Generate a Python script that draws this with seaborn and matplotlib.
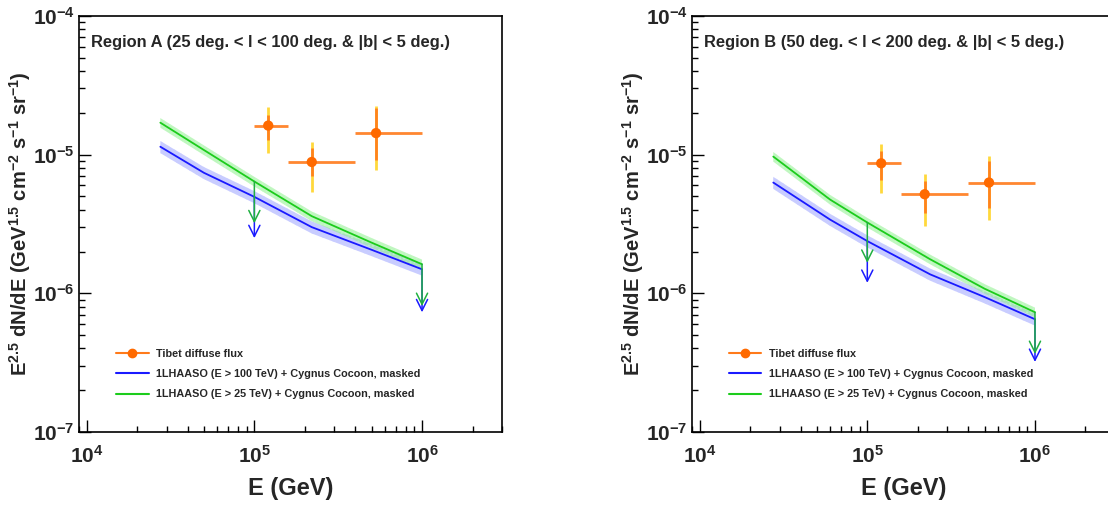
import numpy as np
import pandas as pd
import seaborn as sns
import matplotlib.pyplot as plt
from matplotlib.lines import Line2D
from matplotlib.ticker import LogLocator, NullFormatter, FuncFormatter

# ========= 1) DATA (read off the figure) =========
# LHAASO-based model curves, Region A
curve_e_a = [2.75e4, 5e4, 1e5, 2.2e5, 5e5, 1e6]
green_a = [1.70e-5, 1.08e-5, 6.4e-6, 3.6e-6, 2.32e-6, 1.62e-6]
blue_a = [1.14e-5, 7.4e-6, 4.96e-6, 3.0e-6, 2.06e-6, 1.49e-6]
# LHAASO-based model curves, Region B
curve_e_b = [2.75e4, 6e4, 1e5, 2.37e5, 5e5, 1e6]
green_b = [9.68e-6, 4.74e-6, 3.24e-6, 1.76e-6, 1.08e-6, 7.3e-7]
blue_b = [6.29e-6, 3.40e-6, 2.38e-6, 1.37e-6, 9.4e-7, 6.5e-7]
# relative band half-widths
green_err = [0.08, 0.08, 0.08, 0.08, 0.08, 0.08]
blue_err = [0.10, 0.10, 0.10, 0.10, 0.10, 0.10]

# upper-limit arrows
ul_e = [1e5, 1e6]
green_ul_a = [3.2e-6, 8.1e-7]
blue_ul_a = [2.5e-6, 7.3e-7]
green_ul_b = [1.66e-6, 3.65e-7]
blue_ul_b = [1.19e-6, 3.2e-7]

# Tibet diffuse flux points
tibet_e = [1.21e5, 2.2e5, 5.32e5]
tibet_e_lo = [1.0e5, 1.58e5, 4.0e5]
tibet_e_hi = [1.58e5, 4.0e5, 1.0e6]
tibet_a = [1.62e-5, 8.85e-6, 1.43e-5]
tibet_a_stat_lo = [1.28e-5, 6.98e-6, 9.2e-6]
tibet_a_stat_hi = [1.94e-5, 1.12e-5, 2.17e-5]
tibet_a_sys_lo = [1.03e-5, 5.36e-6, 7.8e-6]
tibet_a_sys_hi = [2.20e-5, 1.23e-5, 2.25e-5]
tibet_b = [8.66e-6, 5.18e-6, 6.29e-6]
tibet_b_stat_lo = [6.6e-6, 3.8e-6, 4.14e-6]
tibet_b_stat_hi = [1.06e-5, 6.45e-6, 8.95e-6]
tibet_b_sys_lo = [5.3e-6, 3.08e-6, 3.40e-6]
tibet_b_sys_hi = [1.20e-5, 7.3e-6, 9.84e-6]

titles = ["Region A (25 deg. < l < 100 deg. & |b| < 5 deg.)",
          "Region B (50 deg. < l < 200 deg. & |b| < 5 deg.)"]
labels = ["Tibet diffuse flux",
          "1LHAASO (E > 100 TeV) + Cygnus Cocoon, masked",
          "1LHAASO (E > 25 TeV) + Cygnus Cocoon, masked"]

# ========= 2) STYLE =========
sns.set_style("ticks")
plt.rcParams["font.family"] = ["Liberation Sans", "DejaVu Sans"]
plt.rcParams["font.weight"] = "bold"
plt.rcParams["mathtext.fontset"] = "custom"
plt.rcParams["mathtext.rm"] = "Liberation Sans:bold"
plt.rcParams["mathtext.bf"] = "Liberation Sans:bold"
plt.rcParams["mathtext.it"] = "Liberation Sans:bold:italic"
plt.rcParams["mathtext.sf"] = "Liberation Sans:bold"
plt.rcParams["mathtext.default"] = "rm"

C_BLUE = "#1a1aff"
C_GREEN = "#1ccc1c"
C_ORANGE = "#ff6a00"
C_YELLOW = "#ffd21a"

fig = plt.figure(figsize=(11.08, 5.05), dpi=100)
ax_a = fig.add_axes([0.0713, 0.1446, 0.3818, 0.8238])
ax_b = fig.add_axes([0.6245, 0.1446, 0.3818, 0.8238])

panels = [
    (ax_a, curve_e_a, green_a, blue_a, green_ul_a, blue_ul_a, tibet_a,
     tibet_a_stat_lo, tibet_a_stat_hi, tibet_a_sys_lo, tibet_a_sys_hi, titles[0]),
    (ax_b, curve_e_b, green_b, blue_b, green_ul_b, blue_ul_b, tibet_b,
     tibet_b_stat_lo, tibet_b_stat_hi, tibet_b_sys_lo, tibet_b_sys_hi, titles[1]),
]

fmt = FuncFormatter(lambda v, p: r"$10^{%d}$" % round(np.log10(v)))

for (ax, ce, gr, bl, gul, bul, tb, st_lo, st_hi, sy_lo, sy_hi, title) in panels:
    ce = np.array(ce)
    gr = np.array(gr)
    bl = np.array(bl)

    # bands
    ax.fill_between(ce, bl * (1 - np.array(blue_err)), bl * (1 + np.array(blue_err)),
                    color="#9ea4ff", alpha=0.55, lw=0, hatch="....", edgecolor="#c8ccff")
    ax.fill_between(ce, gr * (1 - np.array(green_err)), gr * (1 + np.array(green_err)),
                    color="#8cf08c", alpha=0.55, lw=0, hatch="....", edgecolor="#c8ffc8")

    df = pd.DataFrame({
        "E": np.concatenate([ce, ce]),
        "flux": np.concatenate([bl, gr]),
        "model": ["blue"] * len(ce) + ["green"] * len(ce),
    })
    sns.lineplot(data=df, x="E", y="flux", hue="model",
                 palette={"blue": C_BLUE, "green": C_GREEN},
                 lw=1.3, legend=False, ax=ax, sort=True)

    # upper-limit arrows
    for i, e in enumerate(ul_e):
        j = list(ce).index(e)
        ax.annotate("", xy=(e, bul[i]), xytext=(e, bl[j]),
                    arrowprops=dict(arrowstyle="->", color=C_BLUE, lw=1.1,
                                    mutation_scale=20, shrinkA=0, shrinkB=0))
        ax.annotate("", xy=(e, gul[i]), xytext=(e, gr[j]),
                    arrowprops=dict(arrowstyle="->", color="#20b040", lw=1.1,
                                    mutation_scale=20, shrinkA=0, shrinkB=0))

    # Tibet points: systematic (yellow) and statistical (orange) errors
    tb = np.array(tb)
    te = np.array(tibet_e)
    ax.errorbar(te, tb, yerr=[tb - np.array(sy_lo), np.array(sy_hi) - tb],
                fmt="none", ecolor=C_YELLOW, elinewidth=2, alpha=0.85, capsize=0)
    ax.errorbar(te, tb, yerr=[tb - np.array(st_lo), np.array(st_hi) - tb],
                xerr=[te - np.array(tibet_e_lo), np.array(tibet_e_hi) - te],
                fmt="none", ecolor="#ff7a1a", elinewidth=2, alpha=0.9, capsize=0)
    sns.scatterplot(x=te, y=tb, color=C_ORANGE, s=55, edgecolor="none",
                    ax=ax, zorder=5)

    ax.set_xscale("log")
    ax.set_yscale("log")
    ax.set_xlim(9e3, 3e6)
    ax.set_ylim(1e-7, 1e-4)

    ax.xaxis.set_major_locator(LogLocator(base=10, numticks=10))
    ax.xaxis.set_minor_locator(LogLocator(base=10, subs=np.arange(2, 10), numticks=20))
    ax.yaxis.set_major_locator(LogLocator(base=10, numticks=10))
    ax.yaxis.set_minor_locator(LogLocator(base=10, subs=np.arange(2, 10), numticks=20))
    ax.xaxis.set_major_formatter(fmt)
    ax.yaxis.set_major_formatter(fmt)
    ax.xaxis.set_minor_formatter(NullFormatter())
    ax.yaxis.set_minor_formatter(NullFormatter())

    ax.tick_params(which="both", direction="in", top=False, right=False,
                   width=1.0, color="black")
    ax.tick_params(which="major", length=8.5, labelsize=15)
    ax.tick_params(which="minor", length=4.3)
    ax.tick_params(axis="x", which="major", pad=9)
    ax.tick_params(axis="y", which="major", pad=3)
    for s in ax.spines.values():
        s.set_linewidth(1.2)
        s.set_color("black")

    ax.set_xlabel("E (GeV)", fontsize=17, fontweight="bold", labelpad=8)
    ax.set_ylabel(r"E$^{2.5}$ dN/dE (GeV$^{1.5}$ cm$^{-2}$ s$^{-1}$ sr$^{-1}$)",
                  fontsize=14.5, fontweight="bold")
    ax.yaxis.set_label_coords(-0.108, 0.5)
    ax.text(0.028, 0.935, title, transform=ax.transAxes, fontsize=11.9,
            fontweight="bold", va="center", ha="left")

    handles = [
        Line2D([], [], color="#ff7a1a", lw=1.5, marker="o", markersize=6,
               markerfacecolor=C_ORANGE, markeredgecolor=C_ORANGE),
        Line2D([], [], color=C_BLUE, lw=1.5),
        Line2D([], [], color=C_GREEN, lw=1.5),
    ]
    leg = ax.legend(handles, labels, loc="upper left", bbox_to_anchor=(0.0875, 0.2),
                    frameon=False, fontsize=7.8, handlelength=3.0, handletextpad=0.7,
                    labelspacing=0.95, borderpad=0, borderaxespad=0)
    for t in leg.get_texts():
        t.set_fontweight("bold")

fig.savefig("out.png", dpi=100)
